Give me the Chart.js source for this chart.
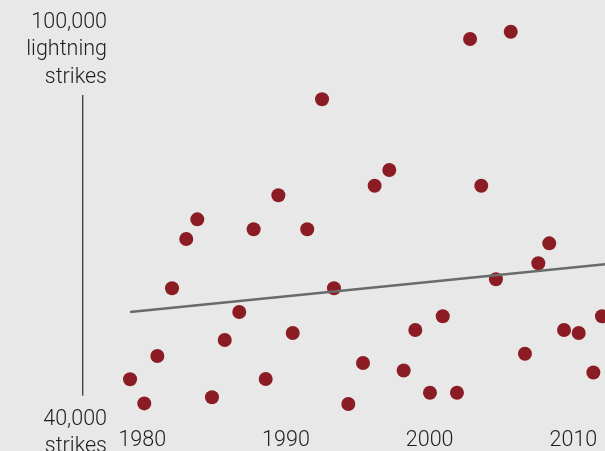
<!DOCTYPE html>
<html>
<head>
<meta charset="utf-8">
<script src="https://cdn.jsdelivr.net/npm/chart.js@4/dist/chart.umd.min.js"></script>
<style>
  html, body { margin: 0; padding: 0; background: #e8e8e8; }
  #wrap { width: 605px; height: 451px; position: relative; }
  canvas { display: block; }
</style>
</head>
<body>
<div id="wrap"><canvas id="c" width="605" height="451"></canvas></div>
<script>
// ---- data ----
const years = [1979.15, 1980.14, 1981.05, 1982.07, 1983.06, 1983.83, 1984.85, 1985.74, 1986.75, 1987.75,
               1988.59, 1989.47, 1990.47, 1991.48, 1992.51, 1993.34, 1994.34, 1995.36, 1996.17, 1997.19,
               1998.19, 1999.00, 2000.02, 2000.91, 2001.90, 2002.81, 2003.59, 2004.61, 2005.64, 2006.63,
               2007.56, 2008.32, 2009.35, 2010.37, 2011.39, 2011.99];
const strikes = [45810, 42180, 49320, 59530, 66960, 69930, 43100, 51730, 55960, 68430,
                 45850, 73550, 52790, 68430, 88030, 59530, 42090, 48270, 75000, 77370,
                 47140, 53240, 43790, 55310, 43790, 97120, 75000, 60890, 98220, 49670,
                 63300, 66310, 53240, 52790, 46830, 55310];
const trendYears = [1979.15, 2012.2];
const trendValues = [55960, 63150];
const xTickLabels = [1980, 1990, 2000, 2010];
const yTopValue = 100000;
const yTopLabel = ["100,000", "lightning", "strikes"];
const yBottomValue = 40000;
const yBottomLabel = ["40,000", "strikes"];

const FONT = "300 21.5px Roboto, 'Liberation Sans', sans-serif";
const TEXT_COLOR = "#1e1e1e";

const labelsPlugin = {
  id: 'labels',
  beforeDraw(chart) {
    const ctx = chart.ctx;
    ctx.save();
    ctx.fillStyle = '#e8e8e8';
    ctx.fillRect(0, 0, chart.width, chart.height);
    ctx.restore();
  },
  afterDraw(chart) {
    const ctx = chart.ctx;
    const xs = chart.scales.x, ys = chart.scales.y;
    const area = chart.chartArea;
    ctx.save();
    ctx.font = FONT;
    ctx.fillStyle = TEXT_COLOR;
    ctx.textBaseline = 'alphabetic';

    // x tick labels
    ctx.textAlign = 'center';
    xTickLabels.forEach(v => {
      ctx.fillText(String(v), xs.getPixelForValue(v), area.bottom - 5);
    });

    // y labels
    ctx.textAlign = 'right';
    const lx = area.left + 107;
    const yTop = ys.getPixelForValue(yTopValue);
    yTopLabel.forEach((t, i) => ctx.fillText(t, lx, yTop + 8 + i * 27.5));
    const yBot = ys.getPixelForValue(yBottomValue);
    yBottomLabel.forEach((t, i) => ctx.fillText(t, lx, yBot + 7 + i * 27.5));

    // vertical axis line
    ctx.strokeStyle = '#454545';
    ctx.lineWidth = 1.4;
    ctx.beginPath();
    ctx.moveTo(area.left + 82.7, yTop + 75);
    ctx.lineTo(area.left + 82.7, yBot - 22);
    ctx.stroke();
    ctx.restore();
  }
};

new Chart(document.getElementById('c'), {
  type: 'scatter',
  data: {
    datasets: [
      {
        type: 'line',
        data: trendYears.map((x, i) => ({ x, y: trendValues[i] })),
        borderColor: '#676b6b',
        borderWidth: 2.5,
        pointRadius: 0,
        fill: false,
        order: 0
      },
      {
        data: years.map((x, i) => ({ x, y: strikes[i] })),
        backgroundColor: '#8b1c24',
        borderColor: '#8b1c24',
        borderWidth: 0,
        pointRadius: 7,
        order: 1
      }
    ]
  },
  options: {
    responsive: false,
    animation: false,
    devicePixelRatio: 1,
    layout: { padding: 0, autoPadding: false },
    clip: false,
    plugins: { legend: { display: false }, tooltip: { enabled: false } },
    scales: {
      x: { type: 'linear', min: 1970.1, max: 2012.2, display: false },
      y: { type: 'linear', min: 35000, max: 103000, display: false }
    }
  },
  plugins: [labelsPlugin]
});
</script>
</body>
</html>
